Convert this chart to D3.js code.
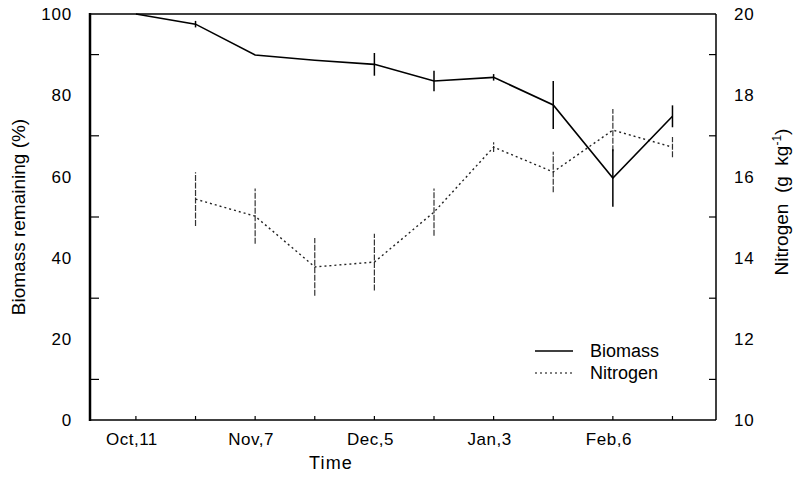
<!DOCTYPE html>
<html><head><meta charset="utf-8">
<script src="https://cdn.jsdelivr.net/npm/d3@7"></script>
<style>
body{margin:0;background:#fff;}
svg{display:block;font-family:"Liberation Sans",Arial,Helvetica,sans-serif;}
</style></head>
<body>
<svg id="chart" width="794" height="480"></svg>
<script>
// ---- data ----
const sampleIndex = [0,1,2,3,4,5,6,7,8,9];
const xTickLabels = ["Oct,11","","Nov,7","","Dec,5","","Jan,3","","Feb,6",""];
const biomass     = [100, 97.5, 89.9, 88.6, 87.6, 83.5, 84.4, 77.6, 59.6, 74.8];
const biomassErr  = [0, 0.8, 0, 0, 2.8, 2.5, 0.8, 5.9, 7.1, 2.7];
const nitrogenIndex = [1,2,3,4,5,6,7,8,9];
const nitrogen    = [15.44, 15.02, 13.77, 13.89, 15.12, 16.72, 16.11, 17.14, 16.72];
const nitrogenErr = [0.66, 0.68, 0.71, 0.70, 0.58, 0.12, 0.50, 0.52, 0.25];
const leftTickLabels = [0,20,40,60,80,100];
const leftMinorTicks = [10,30,50,70,90];
const rightTickLabels = [10,12,14,16,18,20];
const rightMinorTicks = [11,13,15,17,19];

// ---- layout ----
const L = 90, R = 716, T = 14, B = 420;
const svg = d3.select("#chart");
const x = d3.scaleLinear().domain([-0.77, 9.73]).range([L, R]);
const yB = d3.scaleLinear().domain([0, 100]).range([B, T]);
const yN = d3.scaleLinear().domain([10, 20]).range([B, T]);

// frame
svg.append("line").attr("x1",L).attr("x2",R).attr("y1",T).attr("y2",T).attr("stroke","#000").attr("stroke-width",1.5);
svg.append("line").attr("x1",L).attr("x2",R).attr("y1",B).attr("y2",B).attr("stroke","#000").attr("stroke-width",1.5);
svg.append("line").attr("x1",R).attr("x2",R).attr("y1",T).attr("y2",B).attr("stroke","#000").attr("stroke-width",1.5);
svg.append("line").attr("x1",L).attr("x2",L).attr("y1",T-1).attr("y2",B+1).attr("stroke","#000").attr("stroke-width",2.5);

// left axis ticks (inward, minor only)
svg.append("g").selectAll("line").data(leftMinorTicks).join("line")
  .attr("x1",L).attr("x2",L+9).attr("y1",d=>yB(d)).attr("y2",d=>yB(d))
  .attr("stroke","#000").attr("stroke-width",1.2);
svg.append("g").selectAll("text").data(leftTickLabels).join("text")
  .attr("x",72).attr("y",d=>yB(d)).attr("dy","0.36em")
  .attr("text-anchor","end").attr("font-size",17).attr("letter-spacing",0.8)
  .text(d=>d);

// right axis
svg.append("g").selectAll("line").data(rightMinorTicks).join("line")
  .attr("x1",R).attr("x2",R-7).attr("y1",d=>yN(d)).attr("y2",d=>yN(d))
  .attr("stroke","#000").attr("stroke-width",1.2);
svg.append("g").selectAll("text").data(rightTickLabels).join("text")
  .attr("x",734).attr("y",d=>yN(d)).attr("dy","0.36em")
  .attr("text-anchor","start").attr("font-size",17).attr("letter-spacing",0.8)
  .text(d=>d);

// bottom ticks
svg.append("g").selectAll("line").data(sampleIndex).join("line")
  .attr("x1",d=>x(d)).attr("x2",d=>x(d)).attr("y1",B).attr("y2",B-4)
  .attr("stroke","#000").attr("stroke-width",1.2);
svg.append("g").selectAll("text").data(sampleIndex).join("text")
  .attr("x",d=>x(d)-4).attr("y",445)
  .attr("text-anchor","middle").attr("font-size",17).attr("letter-spacing",0.5)
  .text(d=>xTickLabels[d]);

// axis titles
svg.append("text").attr("x",331).attr("y",469).attr("text-anchor","middle")
  .attr("font-size",18).attr("letter-spacing",1.2).text("Time");
svg.append("text").attr("transform","translate(25,217) rotate(-90)")
  .attr("text-anchor","middle").attr("font-size",19).text("Biomass remaining (%)");
const nt = svg.append("text").attr("transform","translate(788,202) rotate(-90)")
  .attr("text-anchor","middle").attr("font-size",19).attr("xml:space","preserve");
nt.append("tspan").text("Nitrogen  (g  kg");
nt.append("tspan").attr("font-size",12).attr("dy",-7).text("-1");
nt.append("tspan").attr("dy",7).text(")");

// nitrogen series
const nData = nitrogenIndex.map((d,i)=>({i:d, v:nitrogen[i], e:nitrogenErr[i]}));
svg.append("g").selectAll("line").data(nData).join("line")
  .attr("x1",d=>x(d.i)).attr("x2",d=>x(d.i))
  .attr("y1",d=>yN(d.v-d.e)).attr("y2",d=>yN(d.v+d.e))
  .attr("stroke","#333").attr("stroke-width",1.2).attr("stroke-dasharray","6,1.5");
svg.append("path").datum(nData)
  .attr("d", d3.line().x(d=>x(d.i)).y(d=>yN(d.v)))
  .attr("fill","none").attr("stroke","#222").attr("stroke-width",1.4)
  .attr("stroke-dasharray","2,3");

// biomass series
const bData = sampleIndex.map(i=>({i, v:biomass[i], e:biomassErr[i]}));
svg.append("g").selectAll("line").data(bData.filter(d=>d.e>0)).join("line")
  .attr("x1",d=>x(d.i)).attr("x2",d=>x(d.i))
  .attr("y1",d=>yB(d.v-d.e)).attr("y2",d=>yB(d.v+d.e))
  .attr("stroke","#000").attr("stroke-width",1.5);
svg.append("path").datum(bData)
  .attr("d", d3.line().x(d=>x(d.i)).y(d=>yB(d.v)))
  .attr("fill","none").attr("stroke","#000").attr("stroke-width",1.6);

// legend
const legend = [{name:"Biomass", dash:null, y:351},{name:"Nitrogen", dash:"2,3", y:373}];
const lg = svg.append("g");
legend.forEach(d=>{
  lg.append("line").attr("x1",535).attr("x2",573).attr("y1",d.y).attr("y2",d.y)
    .attr("stroke","#000").attr("stroke-width",d.dash?1.2:1.3)
    .attr("stroke-dasharray",d.dash);
  lg.append("text").attr("x",590).attr("y",d.y+5.5).attr("font-size",18).text(d.name);
});
</script>
</body></html>
